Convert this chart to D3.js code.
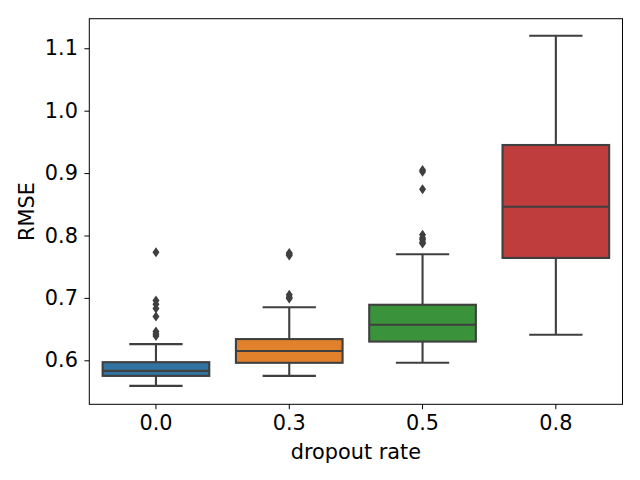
<!DOCTYPE html>
<html><head><meta charset="utf-8">
<script src="https://cdn.jsdelivr.net/npm/d3@7"></script>
<style>body{margin:0;background:#fff}svg{display:block}text{font-family:"DejaVu Sans",sans-serif}</style>
</head><body><svg id="c" width="640" height="480"></svg>
<script>
const categories = ["0.0","0.3","0.5","0.8"];
const whiskerLow  = [0.559, 0.575, 0.596, 0.641];
const q1          = [0.575, 0.596, 0.630, 0.764];
const median      = [0.583, 0.615, 0.657, 0.846];
const q3          = [0.597, 0.634, 0.689, 0.945];
const whiskerHigh = [0.626, 0.685, 0.770, 1.120];
const outliers = [
  [0.773, 0.696, 0.690, 0.683, 0.670, 0.646, 0.642, 0.639],
  [0.772, 0.770, 0.768, 0.705, 0.701, 0.699],
  [0.905, 0.902, 0.874, 0.801, 0.796, 0.793, 0.789, 0.787],
  []
];
const yTicks = [0.6, 0.7, 0.8, 0.9, 1.0, 1.1];
const colors = ["#3274a1","#e1812c","#3a923a","#c03d3e"];

const svg = d3.select("#c");
const L = 89.3, R = 622.5, T = 18.7, B = 404.3;
const x = d3.scaleBand().domain(categories).range([L, R]).paddingInner(0).paddingOuter(0);
const y = d3.scaleLinear().domain([0.5295, 1.1474]).range([B, T]);
const lc = "#3f3f3f", lw = 2.1;
const bw = x.bandwidth() * 0.8;
const FS = 20.8;

const g = svg.append("g");
categories.forEach((c, i) => {
  const cx = x(c) + x.bandwidth() / 2;
  g.append("line").attr("x1", cx).attr("x2", cx).attr("y1", y(whiskerLow[i])).attr("y2", y(q1[i])).attr("stroke", lc).attr("stroke-width", lw);
  g.append("line").attr("x1", cx).attr("x2", cx).attr("y1", y(q3[i])).attr("y2", y(whiskerHigh[i])).attr("stroke", lc).attr("stroke-width", lw);
  [whiskerLow[i], whiskerHigh[i]].forEach(v => {
    g.append("line").attr("x1", cx - bw / 4).attr("x2", cx + bw / 4).attr("y1", y(v)).attr("y2", y(v)).attr("stroke", lc).attr("stroke-width", lw);
  });
  g.append("rect").attr("x", cx - bw / 2).attr("width", bw).attr("y", y(q3[i])).attr("height", y(q1[i]) - y(q3[i]))
    .attr("fill", colors[i]).attr("stroke", lc).attr("stroke-width", lw);
  g.append("line").attr("x1", cx - bw / 2).attr("x2", cx + bw / 2).attr("y1", y(median[i])).attr("y2", y(median[i])).attr("stroke", lc).attr("stroke-width", lw);
  outliers[i].forEach(v => {
    const py = y(v);
    g.append("path").attr("d", `M${cx},${py-5}L${cx+3.5},${py}L${cx},${py+5}L${cx-3.5},${py}Z`).attr("fill", lc);
  });
});

svg.append("rect").attr("x", L).attr("y", T).attr("width", R - L).attr("height", B - T).attr("fill", "none").attr("stroke", "#000").attr("stroke-width", 1);

const xa = svg.append("g").attr("transform", `translate(0,${B})`).call(d3.axisBottom(x).tickSize(4.9).tickPadding(6));
const ya = svg.append("g").attr("transform", `translate(${L},0)`).call(d3.axisLeft(y).tickValues(yTicks).tickFormat(d3.format(".1f")).tickSize(4.9).tickPadding(6.5));
[xa, ya].forEach(a => {
  a.select(".domain").remove();
  a.selectAll("line").attr("stroke", "#000").attr("stroke-width", 1);
  a.selectAll("text").attr("font-size", FS).attr("fill", "#000").attr("font-family", "DejaVu Sans");
});
svg.append("text").attr("x", (L + R) / 2).attr("y", 459).attr("text-anchor", "middle").attr("font-size", FS).text("dropout rate");
svg.append("text").attr("transform", `translate(33.5,${(T + B) / 2}) rotate(-90)`).attr("text-anchor", "middle").attr("font-size", FS).text("RMSE");
</script></body></html>
